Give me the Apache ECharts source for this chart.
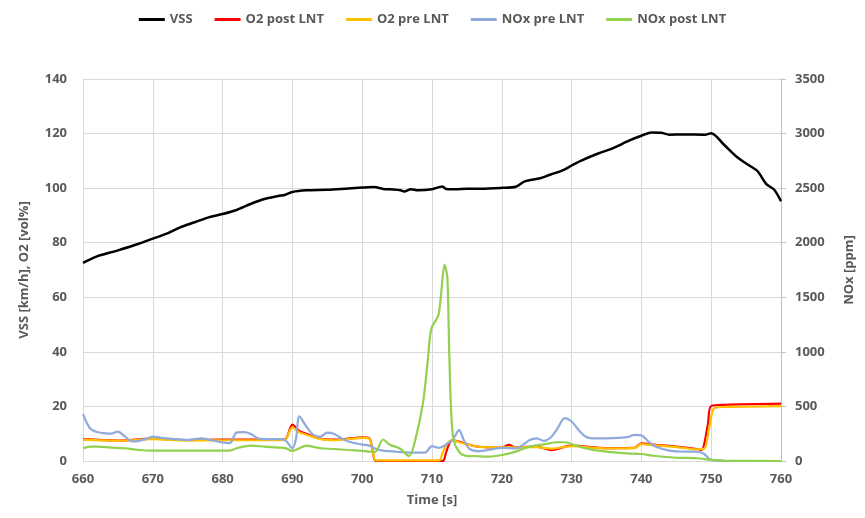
<!DOCTYPE html>
<html>
<head>
<meta charset="utf-8">
<script src="https://cdn.jsdelivr.net/npm/echarts@6/dist/echarts.min.js"></script>
<style>html,body{margin:0;padding:0;background:#fff}#c{width:865px;height:518px}</style>
</head>
<body>
<div id="c"></div>
<script>
// ---- data ----
const vssT = [660,662,665,668,670,672,674,676,678,680,682,684,686,688,689,690,692,695,698,700,701.7,703,704.5,705.5,706,707,708,710,711.5,712,713.3,715,717,720,722,723.3,725.5,727,728.7,730,731.3,733.8,735.7,738.3,740,741.5,742.8,744,746,749.2,750,751.8,753.7,755,756.6,757.9,759,760];
const vssV = [72.6,75,77.2,79.6,81.5,83.3,85.7,87.5,89.3,90.5,92,94.2,96,97.1,97.6,98.6,99.2,99.4,99.9,100.2,100.4,99.7,99.5,99.2,98.8,99.6,99.2,99.6,100.6,99.7,99.6,99.8,99.8,100.1,100.5,102.5,103.6,105,106.5,108.3,110,112.7,114.4,117.5,119.2,120.4,120.3,119.6,119.7,119.6,120.1,116,111.4,109,106.3,101.5,99.5,95.2];

const o2PostT = [660,665,670,675,680,685,688,689,690,691,692,694,696,698,700,701,701.5,702,711.5,712,712.5,713,714,716,718,720,721,722,725,727,730,735,739,740,742,745,748,748.6,749.5,750,752,760];
const o2PostV = [8,7.5,8.2,7.7,7.8,7.8,7.8,8,13.3,11,10,8.2,7.8,8.2,8.7,8.4,4,0,0,3,6.5,7.6,7,5.5,5,4.9,5.9,5,5.3,4,5.6,4.7,4.8,6.5,5.9,5.3,4.4,4,13,20.2,20.6,21];

const o2PreT = [660,665,670,675,680,685,688,689,690,691,692,694,696,698,700,701,701.5,702,711,711.5,712,712.5,713,714,716,718,720,722,725,727,730,735,739,740,742,745,748,749,749.7,750.3,751,752,760];
const o2PreV = [7.8,7.4,8,7.5,7.6,7.6,7.6,7.9,12.3,10.5,9.6,8,7.6,8,8.5,8.2,4,0.2,0.2,3,5.8,7.3,7.5,6.8,5.5,5,5,5,5.1,4.5,5.4,4.6,4.7,6.2,5.7,5.1,4.3,4.5,12,19,19.7,19.8,20.1];

const noxPreT = [660,661,662,663,664,665,666,667,668,669,670,671,673,675,677,678,680,681,682,683,684,685,686,688,689,690,690.5,691,692,693,694,695,696,697,698,699,700,701,702,703,705,707,708,709,710,711,712,713,713.9,714.5,715.4,716.8,718,720,722,724,725,726,727,728,729,730,731,732,733,735,738,739,740,741,742,744,746,748,749,750,752,760];
const noxPreV = [430,300,265,255,250,270,225,180,185,200,224,215,200,193,208,195,170,163,260,264,250,208,200,200,190,116,200,408,316,240,224,260,248,208,178,163,150,141,110,95,85,76,76,76,136,121,150,200,282,200,110,91,100,121,116,193,208,184,215,300,393,362,285,224,208,208,218,240,235,178,132,95,86,86,64,10,0,0];

const noxPostT = [660,661,662,664,666,668,670,675,680,681,682,683,684,686,688,689,690,691,692,693,694,696,698,700,701.8,703,703.9,705.4,706.7,707.5,708.7,709.4,709.9,710.9,711.3,711.8,712.2,712.5,713,714,715.4,716,718,720,722,724,726,728,729,730,732,735,738,740,742,745,748,750,752,760];
const noxPostV = [117,132,132,123,117,101,95,95,95,95,117,132,141,132,123,118,92,117,141,130,117,110,101,92,82,197,151,115,45,167,530,924,1212,1333,1530,1797,1682,924,227,76,45,46,40,55,86,132,153,172,172,156,116,86,70,64,46,30,25,10,3,0];

const seriesNames = ['VSS','O2 post LNT','O2 pre LNT','NOx pre LNT','NOx post LNT'];
const leftTicks = {min:0,max:140,interval:20};
const rightTicks = {min:0,max:3500,interval:500};
const timeAxis = {min:660,max:760,interval:10};

const pairs = (t,v)=>t.map((x,i)=>[x,v[i]]);
const txt = {color:'#595959',fontWeight:'bold',fontSize:13,fontFamily:'Open Sans'};
const grid = {lineStyle:{color:'#d9d9d9',width:1}};
const plain = v => String(v);

const chart = echarts.init(document.getElementById('c'));
function mk(name,data,color,yIdx,w){
  return {name,type:'line',data,yAxisIndex:yIdx,symbol:'none',smooth:0.3,
    lineStyle:{color,width:w},itemStyle:{color},z:2};
}
chart.setOption({
  animation:false,
  legend:{top:8,left:'center',itemWidth:26,itemHeight:3,itemGap:22,
    textStyle:Object.assign({},txt,{fontSize:13}),icon:'rect',
    data:seriesNames},
  grid:{left:83,right:84,top:79,bottom:57},
  xAxis:{type:'value',min:timeAxis.min,max:timeAxis.max,interval:timeAxis.interval,
    name:'Time [s]',nameLocation:'middle',nameGap:33,nameTextStyle:txt,
    axisLine:{show:false},axisTick:{show:false},
    axisLabel:Object.assign({margin:12,formatter:plain},txt),splitLine:Object.assign({show:true},grid)},
  yAxis:[
    {type:'value',min:leftTicks.min,max:leftTicks.max,interval:leftTicks.interval,
     name:'VSS [km/h], O2 [vol%]',nameLocation:'middle',nameGap:52,nameRotate:90,nameTextStyle:txt,
     axisLine:{show:false},axisTick:{show:false},
     axisLabel:Object.assign({margin:16,formatter:plain},txt),splitLine:Object.assign({show:true},grid)},
    {type:'value',min:rightTicks.min,max:rightTicks.max,interval:rightTicks.interval,position:'right',
     name:'NOx [ppm]',nameLocation:'middle',nameGap:62,nameRotate:90,nameTextStyle:txt,
     axisLine:{show:true,lineStyle:{color:'#bfbfbf'}},axisTick:{show:true,length:5,lineStyle:{color:'#bfbfbf'}},
     axisLabel:Object.assign({margin:14,formatter:plain},txt),splitLine:{show:false}}
  ],
  series:[
    mk('VSS',pairs(vssT,vssV),'#000000',0,2.5),
    mk('O2 post LNT',pairs(o2PostT,o2PostV),'#ff0000',0,2.2),
    mk('O2 pre LNT',pairs(o2PreT,o2PreV),'#ffc000',0,2.2),
    mk('NOx pre LNT',pairs(noxPreT,noxPreV),'#8faadc',1,2.2),
    mk('NOx post LNT',pairs(noxPostT,noxPostV),'#92d050',1,2.2)
  ]
});
</script>
</body>
</html>
